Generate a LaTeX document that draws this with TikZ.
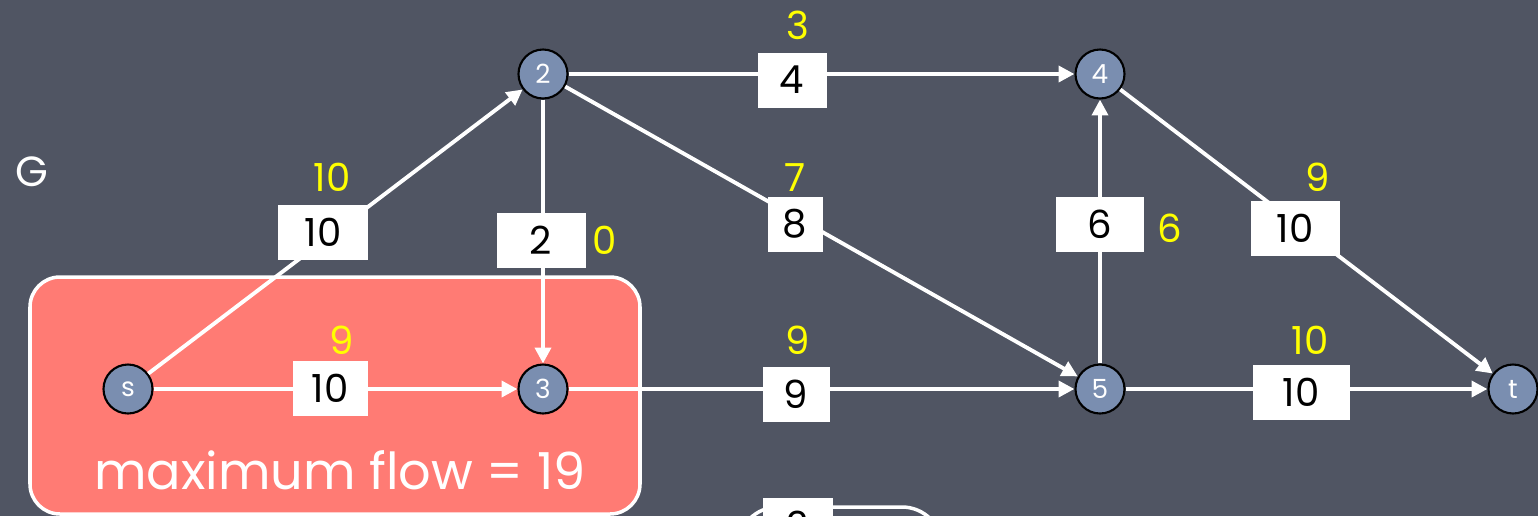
\documentclass[tikz,border=0pt]{standalone}
\usepackage{fontspec}
\setmainfont{Poppins}
\usetikzlibrary{arrows.meta}
\definecolor{board}{HTML}{505563}
\definecolor{nodeblue}{HTML}{7A8EB0}
\definecolor{cutred}{HTML}{FF7B74}
\definecolor{flowyellow}{HTML}{FFFF00}
\tikzset{
  vertex/.style={circle, draw=black, line width=1.2pt, fill=nodeblue, minimum size=0.98cm,
                 inner sep=0pt, text=white, font=\fontsize{15}{15}\selectfont},
  capbox/.style={fill=white, minimum height=1.1cm, inner sep=0pt, text=black,
                 font=\fontsize{22}{22}\selectfont},
  flowlbl/.style={text=flowyellow, inner sep=0pt, font=\fontsize{22}{22}\selectfont},
  edge/.style={draw=white, line width=2.2pt, -{Triangle[length=9pt,width=9pt]}},
}
\begin{document}
\begin{tikzpicture}
    % Frame
    \useasboundingbox (0,0) rectangle (30.76,-10.32);
    \clip (0,0) rectangle (30.76,-10.32);
    \fill[board] (0,0) rectangle (30.76,-10.32);
    % Cut region
    \draw[fill=cutred, draw=white, line width=2pt, rounded corners=0.6cm]
      (0.6,-5.54) rectangle (12.8,-10.28);
    \node[text=white, font=\fontsize{29}{29}\selectfont] (maxflow) at (6.8,-9.4) {maximum flow = 19};
    % Next picture, cut off below
    \draw[white, line width=2pt, rounded corners=0.8cm] (14.76,-10.14) rectangle (18.84,-12);
    \node[capbox, minimum width=1.4cm] (nextbox) at (15.96,-10.5) {2};
    % Graph name
    \node[text=white, font=\fontsize{24}{24}\selectfont] (gname) at (0.64,-3.44) {G};
    % Vertices
    \node[vertex] (s) at (2.56,-7.78) {s};
    \node[vertex] (v2) at (10.86,-1.48) {2};
    \node[vertex] (v3) at (10.86,-7.78) {3};
    \node[vertex] (v4) at (22.0,-1.48) {4};
    \node[vertex] (v5) at (22.0,-7.78) {5};
    \node[vertex] (t) at (30.26,-7.78) {t};
    % Edges
    \draw[edge] (s) -- (v2);
    \draw[edge] (s) -- (v3);
    \draw[edge] (v2) -- (v3);
    \draw[edge] (v2) -- (v4);
    \draw[edge] (v2) -- (v5);
    \draw[edge] (v3) -- (v5);
    \draw[edge] (v5) -- (v4);
    \draw[edge] (v4) -- (t);
    \draw[edge] (v5) -- (t);
    % Capacities
    \node[capbox, minimum width=1.8cm] (cs2) at (6.46,-4.64) {10};
    \node[capbox, minimum width=1.78cm] (c23) at (10.82,-4.8) {2};
    \node[capbox, minimum width=1.38cm] (c24) at (15.84,-1.6) {4};
    \node[capbox, minimum width=1.1cm] (c25) at (15.9,-4.48) {8};
    \node[capbox, minimum width=1.76cm] (c54) at (22.0,-4.48) {6};
    \node[capbox, minimum width=1.78cm] (c4t) at (25.9,-4.56) {10};
    \node[capbox, minimum width=1.5cm] (cs3) at (6.6,-7.76) {10};
    \node[capbox, minimum width=1.34cm] (c35) at (15.92,-7.88) {9};
    \node[capbox, minimum width=1.94cm] (c5t) at (26.02,-7.84) {10};
    % Flows
    \node[flowlbl] (fs2) at (6.64,-3.54) {10};
    \node[flowlbl] (f23) at (12.1,-4.8) {0};
    \node[flowlbl] (f24) at (15.96,-0.5) {3};
    \node[flowlbl] (f25) at (15.9,-3.56) {7};
    \node[flowlbl] (f54) at (23.4,-4.56) {6};
    \node[flowlbl] (f4t) at (26.36,-3.54) {9};
    \node[flowlbl] (fs3) at (6.84,-6.8) {9};
    \node[flowlbl] (f35) at (15.96,-6.8) {9};
    \node[flowlbl] (f5t) at (26.2,-6.8) {10};
\end{tikzpicture}
\end{document}
